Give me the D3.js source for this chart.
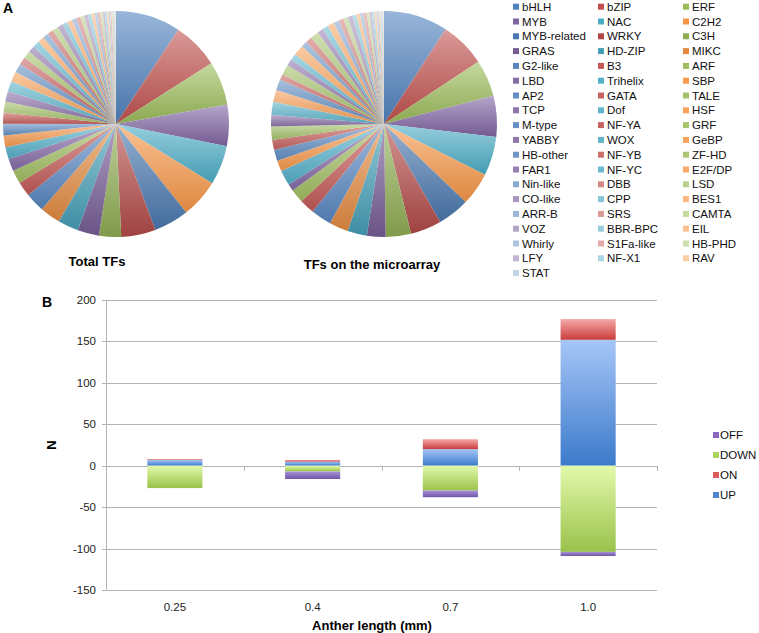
<!DOCTYPE html>
<html>
<head>
<meta charset="utf-8">
<script src="https://cdn.jsdelivr.net/npm/d3@7"></script>
<style>
  body { margin: 0; background: #fff; }
  text { font-family: "Liberation Sans", Arial, sans-serif; }
</style>
</head>
<body>
<div class="data_figure"></div>
<script>
// TF families (legend order, also slice order)
const families = [
    "bHLH", "bZIP", "ERF", "MYB", "NAC", "C2H2", "MYB-related", "WRKY", "C3H",
    "GRAS", "HD-ZIP", "MIKC", "G2-like", "B3", "ARF", "LBD", "Trihelix", "SBP",
    "AP2", "GATA", "TALE", "TCP", "Dof", "HSF", "M-type", "NF-YA", "GRF",
    "YABBY", "WOX", "GeBP", "HB-other", "NF-YB", "ZF-HD", "FAR1", "NF-YC", "E2F/DP",
    "Nin-like", "DBB", "LSD", "CO-like", "CPP", "BES1", "ARR-B", "SRS", "CAMTA",
    "VOZ", "BBR-BPC", "EIL", "Whirly", "S1Fa-like", "HB-PHD", "LFY", "NF-X1", "RAV",
    "STAT"
];
const totalTFs = [
    221, 159, 149, 141, 134, 132, 119, 117, 75,
    73, 71, 70, 66, 50, 46, 42, 41, 40,
    39, 38, 37, 36, 35, 34, 30, 26, 26,
    23, 23, 21, 20, 20, 20, 19, 17, 17,
    15, 15, 13, 13, 12, 11, 10, 9, 9,
    7, 7, 6, 5, 5, 4, 3, 3, 3,
    2
];
const arrayTFs = [
    155, 110, 89, 99, 94, 80, 77, 75, 61,
    45, 47, 46, 50, 36, 33, 17, 37, 26,
    27, 24, 32, 28, 31, 29, 26, 14, 25,
    16, 16, 25, 14, 16, 20, 14, 14, 16,
    13, 12, 11, 12, 9, 9, 8, 8, 7,
    6, 6, 5, 4, 3, 3, 2, 3, 2,
    1
];

// panel B
const stages = ["0.25", "0.4", "0.7", "1.0"];
const upN = [7, 5, 20, 152];
const onN = [1, 2, 12, 25];
const downN = [-27, -7, -30, -104];
const offN = [0, -9, -8, -5];
const yTicks = [-150, -100, -50, 0, 50, 100, 150, 200];

const baseColors = ["#4F81BD", "#C0504D", "#9BBB59", "#8064A2", "#4BACC6", "#F79646"];
const roundTint = [0, -0.08, 0.05, 0.1, 0.12, 0.18, 0.32, 0.42, 0.52, 0.66];

function familyColor(i) {
    const c = baseColors[i % 6];
    const t = roundTint[Math.floor(i / 6)];
    if (t < 0) return d3.interpolateRgb(c, "#000")(-t);
    return d3.interpolateRgb(c, "#fff")(t);
}

const W = 759, H = 633;
const svg = d3.select(".data_figure")
    .append("svg")
    .attr("width", W)
    .attr("height", H);
svg.append("rect").attr("width", W).attr("height", H).attr("fill", "#fff");

const defs = svg.append("defs");

// vertical gradient per colour, light at top
function addGrad(id, top, bottom) {
    const g = defs.append("linearGradient")
        .attr("id", id)
        .attr("x1", 0).attr("y1", 0).attr("x2", 0).attr("y2", 1);
    g.append("stop").attr("offset", "0%").attr("stop-color", top);
    g.append("stop").attr("offset", "100%").attr("stop-color", bottom);
}

families.forEach((f, i) => {
    const c = familyColor(i);
    addGrad("pg" + i, d3.interpolateRgb(c, "#fff")(0.42), d3.color(c).darker(0.3));
});

// ---- panel A: pies
const radius = 113;
const pie = d3.pie().sort(null).value(d => d.v);
const arc = d3.arc().innerRadius(0).outerRadius(radius);

function drawPie(values, cx, cy, title, ty) {
    const data = values.map((v, i) => ({ v: v, i: i }));
    const g = svg.append("g").attr("transform", `translate(${cx},${cy})`);
    g.selectAll("path")
        .data(pie(data))
        .enter()
        .append("path")
        .attr("d", arc)
        .attr("fill", d => `url(#pg${d.data.i})`);
    svg.append("text")
        .text(title)
        .attr("x", cx - (cx < 200 ? 19 : 12))
        .attr("y", ty)
        .attr("text-anchor", "middle")
        .style("font-weight", "bold")
        .style("font-size", "13px");
}

drawPie(totalTFs, 116, 124, "Total TFs", 266);
drawPie(arrayTFs, 384, 124, "TFs on the microarray", 269);

svg.append("text").text("A")
    .attr("x", 3).attr("y", 13)
    .style("font-weight", "bold").style("font-size", "14px");

// pie legend, 3 columns row-wise
const legCols = [513, 598, 683];
const legA = svg.append("g").attr("class", "legendA");
families.forEach((f, i) => {
    const x = legCols[i % 3];
    const y = 6.7 + Math.floor(i / 3) * 14.8;
    legA.append("rect")
        .attr("x", x).attr("y", y - 3)
        .attr("width", 6).attr("height", 6)
        .attr("fill", familyColor(i));
    legA.append("text")
        .text(f)
        .attr("x", x + 9).attr("y", y + 4)
        .style("font-size", "11.5px")
        .attr("fill", "#111");
});

// ---- panel B: stacked bars
const xScale = d3.scaleBand()
    .domain(stages)
    .range([106, 657])
    .paddingInner(0.6)
    .paddingOuter(0.3);
const yScale = d3.scaleLinear()
    .domain([-150, 200])
    .range([590, 300]);

const gridColor = "#b4b4b4";
const gB = svg.append("g");

gB.selectAll(".grid")
    .data(yTicks)
    .enter()
    .append("line")
    .attr("x1", 102).attr("x2", 657)
    .attr("y1", d => Math.round(yScale(d)) + 0.5)
    .attr("y2", d => Math.round(yScale(d)) + 0.5)
    .attr("stroke", gridColor);

gB.append("line")
    .attr("x1", 106.5).attr("x2", 106.5)
    .attr("y1", yScale(200)).attr("y2", yScale(-150))
    .attr("stroke", gridColor);

// category boundary ticks on the zero line
const bounds = d3.range(stages.length + 1).map(i => xScale.range()[0] + i * xScale.step());
gB.selectAll(".xtick")
    .data(bounds)
    .enter()
    .append("line")
    .attr("x1", d => Math.round(d) + 0.5).attr("x2", d => Math.round(d) + 0.5)
    .attr("y1", Math.round(yScale(0))).attr("y2", Math.round(yScale(0)) + 5)
    .attr("stroke", gridColor);

gB.selectAll(".ylab")
    .data(yTicks)
    .enter()
    .append("text")
    .text(d => d)
    .attr("x", 96)
    .attr("y", d => yScale(d) + 4)
    .attr("text-anchor", "end")
    .style("font-size", "11.5px")
    .attr("fill", "#222");

gB.selectAll(".xlab")
    .data(stages)
    .enter()
    .append("text")
    .text(d => d)
    .attr("x", d => xScale(d) + xScale.bandwidth() / 2)
    .attr("y", 611)
    .attr("text-anchor", "middle")
    .style("font-size", "11.5px")
    .attr("fill", "#222");

const series = [
    { key: "UP", vals: upN, top: "#a6c6f7", bot: "#3c7acb", sw: "#4f86d0" },
    { key: "ON", vals: onN, top: "#f6a9a9", bot: "#c83d3b", sw: "#dc5b5b" },
    { key: "DOWN", vals: downN, top: "#e2f9ab", bot: "#9ac24b", sw: "#a9d35a" },
    { key: "OFF", vals: offN, top: "#a891d4", bot: "#6f55a8", sw: "#8868c0" },
];
series.forEach(s => addGrad("bg" + s.key, s.top, s.bot));

const table = stages.map((st, i) => {
    const row = { stage: st };
    series.forEach(s => row[s.key] = s.vals[i]);
    return row;
});
const stacked = d3.stack()
    .keys(series.map(s => s.key))
    .offset(d3.stackOffsetDiverging)(table);

stacked.forEach(layer => {
    gB.selectAll(".bar-" + layer.key)
        .data(layer.filter(d => d[1] !== d[0]))
        .enter()
        .append("rect")
        .attr("x", d => xScale(d.data.stage))
        .attr("width", xScale.bandwidth())
        .attr("y", d => yScale(Math.max(d[0], d[1])))
        .attr("height", d => Math.abs(yScale(d[0]) - yScale(d[1])))
        .attr("fill", `url(#bg${layer.key})`);
});

svg.append("text").text("B")
    .attr("x", 42).attr("y", 307)
    .style("font-weight", "bold").style("font-size", "14px");

svg.append("text").text("N")
    .attr("transform", "translate(56,445) rotate(-90)")
    .attr("text-anchor", "middle")
    .style("font-weight", "bold").style("font-size", "13px");

svg.append("text").text("Anther length (mm)")
    .attr("x", 372).attr("y", 630)
    .attr("text-anchor", "middle")
    .style("font-weight", "bold").style("font-size", "13px");

// bar legend, reversed order
const legB = svg.append("g");
series.slice().reverse().forEach((s, i) => {
    const y = 435 + i * 20;
    legB.append("rect")
        .attr("x", 713).attr("y", y - 3)
        .attr("width", 6).attr("height", 6)
        .attr("fill", s.sw);
    legB.append("text")
        .text(s.key)
        .attr("x", 720).attr("y", y + 4)
        .style("font-size", "11.5px")
        .attr("fill", "#111");
});
</script>
</body>
</html>
